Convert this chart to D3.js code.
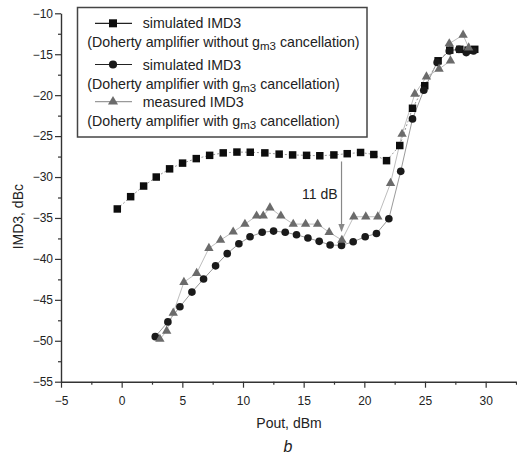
<!DOCTYPE html>
<html>
<head>
<meta charset="utf-8">
<script src="https://cdn.jsdelivr.net/npm/d3@7"></script>
<style>
  body { margin: 0; background: #fff; }
  svg { font-family: "Liberation Sans", Arial, sans-serif; }
</style>
</head>
<body>
<div id="chart"></div>
<script>
// simulated IMD3, Doherty without gm3 cancellation
var simNoCancel = [
    [-0.36, -33.9], [0.74, -32.4], [1.81, -31.1], [2.85, -30.0], [3.95, -29.0],
    [5.02, -28.3], [6.15, -27.75], [7.25, -27.35], [8.37, -27.05], [9.5, -26.95],
    [10.6, -26.97], [11.8, -27.05], [12.98, -27.2], [14.09, -27.3], [15.24, -27.35],
    [16.33, -27.4], [17.49, -27.3], [18.59, -27.15], [19.69, -27.0], [20.78, -27.25],
    [21.83, -28.0], [22.92, -26.15], [23.97, -21.6], [24.98, -18.85], [26.08, -15.8],
    [27.04, -14.5], [27.87, -14.4], [28.55, -14.5], [29.1, -14.4]
];
// simulated IMD3, Doherty with gm3 cancellation
var simCancel = [
    [2.77, -49.5], [3.81, -47.7], [4.8, -45.85], [5.79, -44.05], [6.75, -42.45],
    [7.74, -40.85], [8.7, -39.35], [9.66, -38.15], [10.58, -37.3], [11.58, -36.75],
    [12.52, -36.6], [13.48, -36.75], [14.41, -37.05], [15.35, -37.45], [16.28, -37.85],
    [17.18, -38.3], [18.12, -38.35], [19.08, -37.9], [20.07, -37.3], [21.0, -36.9],
    [22.02, -35.1], [23.0, -29.3], [23.97, -22.9], [24.9, -19.4], [26.0, -16.0],
    [27.0, -14.6], [27.8, -14.4], [28.4, -14.8], [29.0, -14.6]
];
// measured IMD3, Doherty with gm3 cancellation
var measCancel = [
    [3.15, -49.8], [3.71, -48.8], [4.25, -46.6], [5.13, -42.85], [6.18, -41.75],
    [7.19, -38.7], [8.15, -37.7], [9.19, -36.7], [10.16, -35.75], [11.12, -34.75],
    [11.67, -34.75], [12.22, -33.75], [13.12, -34.75], [14.14, -35.75], [15.16, -35.75],
    [16.15, -35.75], [17.1, -36.75], [18.15, -37.7], [19.13, -34.85], [20.12, -34.85],
    [21.11, -34.85], [22.16, -30.75], [23.11, -24.75], [24.16, -19.85], [25.12, -17.75],
    [26.16, -16.8], [27.1, -15.8], [27.0, -13.7], [28.14, -12.65], [28.6, -14.2]
];

var xTicks = [-5, 0, 5, 10, 15, 20, 25, 30];
var yTicks = [-55, -50, -45, -40, -35, -30, -25, -20, -15, -10];
var xMinor = [-2.5, 2.5, 7.5, 12.5, 17.5, 22.5, 27.5, 32.5];
var yMinor = [-52.5, -47.5, -42.5, -37.5, -32.5, -27.5, -22.5, -17.5, -12.5];

var legendItems = ["simulated IMD3", "simulated IMD3", "measured IMD3"];
var legendNotes = [
    ["(Doherty amplifier without g", " cancellation)"],
    ["(Doherty amplifier with g", " cancellation)"],
    ["(Doherty amplifier with g", " cancellation)"]
];
var arrowFrom = [18.12, -28.1];
var arrowTo = [18.12, -36.6];

var width = 517, height = 455;

var svg = d3.select("#chart")
    .append("svg")
    .attr("width", width)
    .attr("height", height);

var x = d3.scaleLinear().domain([-5, 32.5]).range([61, 516]);
var y = d3.scaleLinear().domain([-55, -10]).range([381.7, 13.3]);

var axisColor = "#333";

// axes
svg.append("g")
    .attr("transform", "translate(0," + y(-55) + ")")
    .call(d3.axisBottom(x).tickValues(xTicks).tickSize(6).tickPadding(9).tickSizeOuter(0));
svg.append("g")
    .attr("transform", "translate(0," + y(-55) + ")")
    .call(d3.axisBottom(x).tickValues(xMinor).tickSize(3).tickFormat("").tickSizeOuter(0))
    .select(".domain").remove();

svg.append("g")
    .attr("transform", "translate(" + x(-5) + ",0)")
    .call(d3.axisLeft(y).tickValues(yTicks).tickSize(6).tickPadding(2).tickSizeOuter(0));
svg.append("g")
    .attr("transform", "translate(" + x(-5) + ",0)")
    .call(d3.axisLeft(y).tickValues(yMinor).tickSize(3).tickFormat("").tickSizeOuter(0))
    .select(".domain").remove();

svg.selectAll(".domain").attr("stroke", axisColor).attr("stroke-width", 1.4);
svg.selectAll(".tick line").attr("stroke", axisColor).attr("stroke-width", 1.2);
svg.selectAll(".tick text")
    .attr("fill", "#222")
    .style("font-size", "12px")
    .style("font-family", "'Liberation Sans', Arial, sans-serif");

// axis titles
svg.append("text")
    .attr("transform", "translate(23," + 216.7 + ") rotate(-90)")
    .attr("text-anchor", "middle")
    .attr("fill", "#222")
    .style("font-size", "14px")
    .text("IMD3, dBc");

svg.append("text")
    .attr("x", 289)
    .attr("y", 428)
    .attr("text-anchor", "middle")
    .attr("fill", "#222")
    .style("font-size", "14px")
    .text("Pout, dBm");

svg.append("text")
    .attr("x", 288)
    .attr("y", 452)
    .attr("text-anchor", "middle")
    .attr("fill", "#222")
    .style("font-size", "16px")
    .style("font-style", "italic")
    .text("b");

// series
var line = d3.line()
    .x(function (d) { return x(d[0]); })
    .y(function (d) { return y(d[1]); });

var series = [
    { data: simNoCancel, shape: d3.symbolSquare, size: 56, fill: "#0d0d0d", stroke: "#9a9a9a", dash: "2,2" },
    { data: simCancel, shape: d3.symbolCircle, size: 46, fill: "#1a1a1a", stroke: "#9a9a9a", dash: null },
    { data: measCancel, shape: d3.symbolTriangle, size: 38, fill: "#6b6b6b", stroke: "#bdbdbd", dash: null }
];

series.forEach(function (s) {
    svg.append("path")
        .datum(s.data)
        .attr("fill", "none")
        .attr("stroke", s.stroke)
        .attr("stroke-width", 1)
        .attr("stroke-dasharray", s.dash)
        .attr("d", line);
});

series.forEach(function (s) {
    svg.append("g").selectAll("path")
        .data(s.data)
        .enter().append("path")
        .attr("transform", function (d) { return "translate(" + x(d[0]) + "," + y(d[1]) + ")"; })
        .attr("d", d3.symbol().type(s.shape).size(s.size))
        .attr("fill", s.fill);
});

// 11 dB arrow
svg.append("defs").append("marker")
    .attr("id", "arrowhead")
    .attr("viewBox", "0 0 10 10")
    .attr("refX", 9)
    .attr("refY", 5)
    .attr("markerWidth", 7)
    .attr("markerHeight", 7)
    .attr("orient", "auto")
    .append("path")
    .attr("d", "M0,1 L10,5 L0,9 Z")
    .attr("fill", "#888");

svg.append("line")
    .attr("x1", x(arrowFrom[0]))
    .attr("y1", y(arrowFrom[1]))
    .attr("x2", x(arrowTo[0]))
    .attr("y2", y(arrowTo[1]))
    .attr("stroke", "#888")
    .attr("stroke-width", 1.2)
    .attr("marker-end", "url(#arrowhead)");

svg.append("text")
    .attr("x", x(arrowFrom[0]) - 4)
    .attr("y", 198.5)
    .attr("text-anchor", "end")
    .attr("fill", "#222")
    .style("font-size", "14px")
    .text("11 dB");

// legend
var legend = svg.append("g");
legend.append("rect")
    .attr("x", 77.5)
    .attr("y", 7.5)
    .attr("width", 289.5)
    .attr("height", 129.5)
    .attr("fill", "#fff")
    .attr("stroke", "#444")
    .attr("stroke-width", 1.5);

var rowY = [23.3, 64.5, 101.7];
legendItems.forEach(function (label, i) {
    var s = series[i];
    var g = legend.append("g");
    g.append("line")
        .attr("x1", 95).attr("x2", 132)
        .attr("y1", rowY[i]).attr("y2", rowY[i])
        .attr("stroke", i === 2 ? "#9a9a9a" : "#222")
        .attr("stroke-width", 1.2);
    g.append("path")
        .attr("transform", "translate(113," + rowY[i] + ")")
        .attr("d", d3.symbol().type(s.shape).size(s.size * 1.15))
        .attr("fill", s.fill);
    g.append("text")
        .attr("x", 142.7)
        .attr("y", rowY[i] + 5)
        .attr("fill", "#222")
        .style("font-size", "14.2px")
        .text(label);
    var t = g.append("text")
        .attr("x", 87.3)
        .attr("y", rowY[i] + 24)
        .attr("fill", "#222")
        .style("font-size", "14.2px");
    t.append("tspan").text(legendNotes[i][0]);
    t.append("tspan").attr("dy", 3).style("font-size", "11.5px").text("m3");
    t.append("tspan").attr("dy", -3).text(legendNotes[i][1]);
});
</script>
</body>
</html>
